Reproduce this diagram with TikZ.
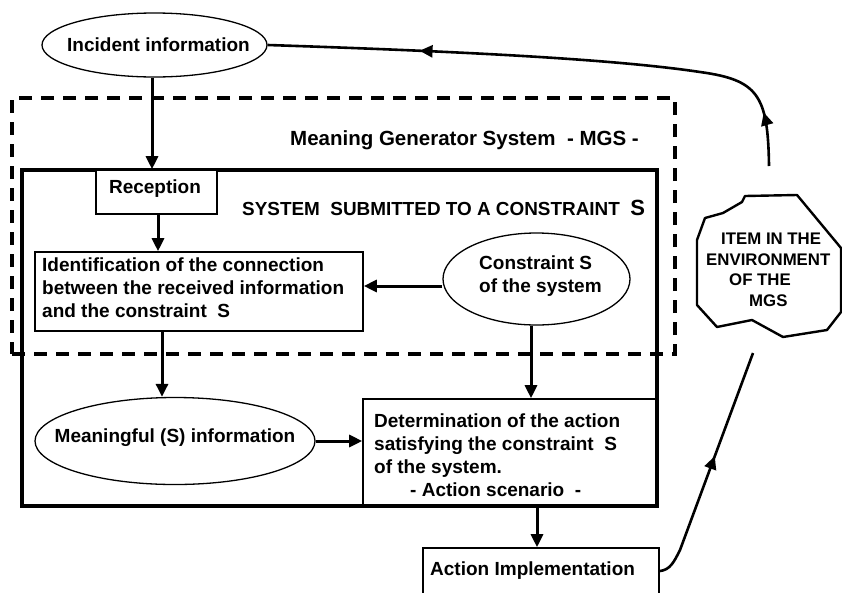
\documentclass[tikz,border=0pt]{standalone}
\usepackage{fontspec}
\setmainfont{Liberation Sans}
\usetikzlibrary{shapes.geometric,arrows.meta,decorations.markings}
\begin{document}
\begin{tikzpicture}[x=1pt,y=-1pt,
  tip/.style={-{Triangle[length=13pt,width=12pt]}},
  conn/.style={line width=3pt,tip},
  ell/.style={ellipse,draw,line width=1.3pt,inner sep=0pt},
  box/.style={rectangle,draw,line width=1.6pt,inner sep=0pt},
  txt/.style={font=\bfseries\fontsize{19}{23}\selectfont,inner sep=0pt},
  smalltxt/.style={font=\bfseries\fontsize{16.8}{20.5}\selectfont,inner sep=0pt},
  curvy/.style={line width=2.6pt,postaction={decorate}}
]
\useasboundingbox (0,0) rectangle (842,592);

% frames
\node[draw,line width=3.3pt,minimum width=635pt,minimum height=336pt,inner sep=0pt] (sys) at (339.5,338) {};
\node[draw,line width=3.6pt,dash pattern=on 13pt off 9pt,minimum width=663pt,minimum height=256pt,inner sep=0pt] (mgs) at (343.5,226) {};
\node[txt,anchor=west,font=\bfseries\fontsize{20.5}{24}\selectfont] (mgslbl) at (290,140) {Meaning Generator System~ - MGS -};
\node[txt,anchor=west,font=\bfseries\fontsize{18.9}{22}\selectfont] (syslbl) at (242,208) {SYSTEM~ SUBMITTED TO A CONSTRAINT~ {\fontsize{22}{24}\selectfont S}};

% nodes
\node[ell,minimum width=225pt,minimum height=64pt] (inc) at (154.5,45) {};
\node[txt] (inctxt) at (158.5,45) {Incident information};

\node[box,fill=white,minimum width=121pt,minimum height=44pt] (rec) at (156.5,192) {};
\node[txt] (rectxt) at (155,189) {Reception};

\node[box,minimum width=328pt,minimum height=79pt] (idb) at (199,291.5) {};
\node[txt,anchor=west,align=left] (idtxt) at (42,288) {Identification of the connection\\between the received information\\and the constraint~ S};

\node[ell,minimum width=187pt,minimum height=92pt] (con) at (536.5,279) {};
\node[txt,anchor=west,align=left] (contxt) at (479,276) {Constraint S\\of the system};

\node[ell,minimum width=280pt,minimum height=87pt] (mea) at (175,441) {};
\node[txt] (meatxt) at (175,438) {Meaningful (S) information};

\node[box,minimum width=293pt,minimum height=107pt] (det) at (509.5,452.5) {};
\node[txt,anchor=west,align=left] (dettxt) at (374,455) {Determination of the action\\satisfying the constraint~ S\\of the system.\\\hspace*{36pt}- Action scenario~ -};

\node[box,minimum width=236pt,minimum height=46pt] (act) at (541,571) {};
\node[txt,anchor=west] (acttxt) at (430,571) {Action Implementation};

% environment item
\draw[line width=2.4pt,line join=round] (745,196) -- (797,195) -- (841,248) -- (841,312) -- (827,330) -- (783,337) -- (752,320) -- (717,327) -- (697,305) -- (697,240) -- (705,218) -- (723,213) -- (742,202) -- cycle;
\node[smalltxt,anchor=west,align=left] (item) at (706,270) {\hspace*{15pt}ITEM IN THE\\ENVIRONMENT\\\hspace*{23pt}OF THE\\\hspace*{43pt}MGS};
\coordinate (e1) at (769,166);
\coordinate (e2) at (753,353);

% connectors
\draw[conn] (inc.south -| 152,0) -- (rec.north -| 152,0);
\draw[conn] (rec.south -| 158,0) -- (idb.north -| 158,0);
\draw[conn] ([yshift=-7pt]con.west) -- ([yshift=-7pt]con.west -| idb.east);
\draw[conn] (idb.south -| 162,0) -- (mea.north -| 162,0);
\draw[conn] (con.south -| 531,0) -- (det.north -| 531,0);
\draw[conn] (mea.east) -- (mea.east -| det.west);
\draw[conn] (det.south -| 537,0) -- (act.north -| 537,0);

\draw[curvy,decoration={markings,
   mark=at position 54pt with {\arrow{Triangle[length=13pt,width=12pt]}},
   mark=at position -152pt with {\arrow{Triangle[length=13pt,width=12pt]}}}]
  (e1) .. controls (768,95) and (758,80) .. (700,72) .. controls (620,60) and (480,52) .. (inc.east);
\draw[curvy,decoration={markings,
   mark=at position -110pt with {\arrow{Triangle[length=13pt,width=12pt]}}}]
  (act.east) .. controls (670,570) and (674,562) .. (680,550) -- (e2);
\end{tikzpicture}
\end{document}
